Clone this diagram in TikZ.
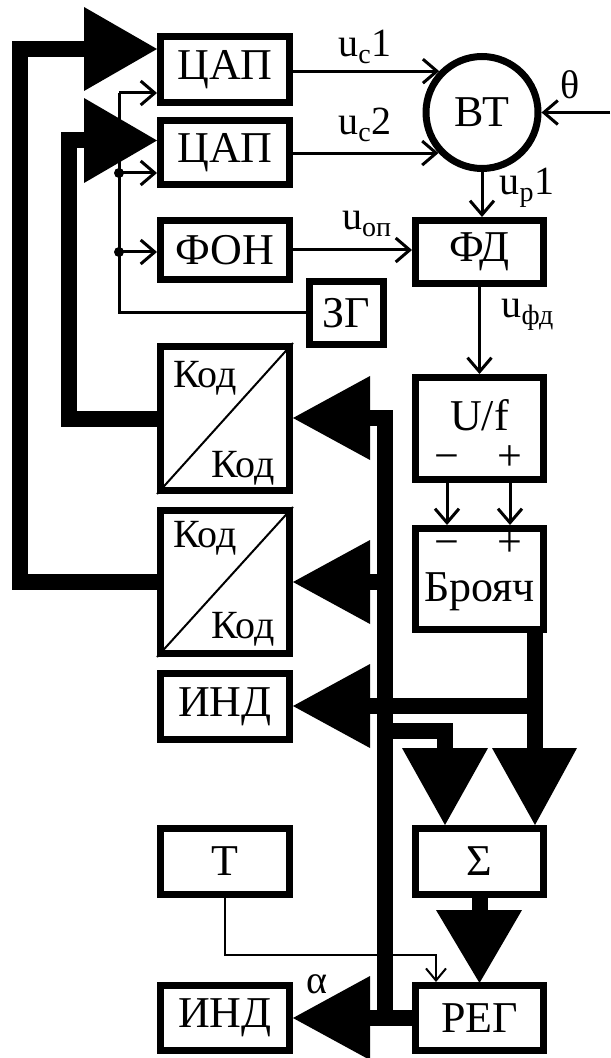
\documentclass[tikz,border=0pt]{standalone}
\usepackage{fontspec}
\setmainfont{Liberation Serif}
\usetikzlibrary{arrows.meta}

\begin{document}
\begin{tikzpicture}[x=0.5pt,y=-0.5pt,
            blk/.style={draw,line width=3.5pt,inner sep=0pt,minimum width=64.5pt,font=\fontsize{22}{24}\selectfont},
            sig/.style={line width=1.5pt,-{Straight Barb[length=7pt,width=12pt,line width=1.5pt]}},
            wire/.style={line width=1.5pt},
            bus/.style={line width=8pt},
            txt/.style={inner sep=0pt,font=\fontsize{22}{24}\selectfont},
            pm/.style={inner sep=0pt,anchor=base,font=\fontsize{22}{24}\selectfont},
            kod/.style={inner sep=0pt,anchor=base,font=\fontsize{20}{22}\selectfont},
            lbl/.style={inner sep=0pt,anchor=base,font=\fontsize{20}{22}\selectfont}]

            \useasboundingbox (0,0) rectangle (610,1058);

            \node[blk,minimum height=33pt] (dac1) at (225,69.5) {ЦАП};
            \node[blk,minimum height=32pt] (dac2) at (225,152.5) {ЦАП};
            \node[blk,minimum height=29.5pt] (fon) at (225,250) {ФОН};
            \node[blk,minimum width=37pt,minimum height=31.5pt] (zg) at (346,313) {ЗГ};
            \node[blk,circle,minimum size=56pt] (bt) at (482,112.5) {ВТ};
            \node[blk,minimum width=64pt,minimum height=31.5pt] (fd) at (479.5,252) {ФД};

            \node[blk,minimum height=72pt] (kod1) at (225,418.5) {};
            \node[blk,minimum height=71.5pt] (kod2) at (225,582) {};
            \node[blk,minimum width=64pt,minimum height=51pt] (uf) at (479.5,428.5) {};
            \node[blk,minimum width=64pt,minimum height=50.5pt] (br) at (479.5,579) {};
            \node[blk,minimum height=33pt] (ind1) at (225,706.5) {ИНД};
            \node[blk,minimum height=33pt] (t) at (225,861.5) {Т};
            \node[blk,minimum width=64pt,minimum height=33pt] (sum) at (479.5,861.5) {Σ};
            \node[blk,minimum width=64pt,minimum height=32.5pt] (reg) at (479.5,1018) {РЕГ};
            \node[blk,minimum height=32.5pt] (ind2) at (225,1018) {ИНД};

            \draw[line width=1pt] (kod1.south west) -- (kod1.north east);
            \draw[line width=1pt] (kod2.south west) -- (kod2.north east);
            \node[kod] (k1a) at (205,387) {Код};
            \node[kod] (k1b) at (243,477) {Код};
            \node[kod] (k2a) at (205,547) {Код};
            \node[kod] (k2b) at (243,638) {Код};

            \node[txt] (uft) at (479.5,415) {U/f};
            \node[pm] (ufm) at (447,470) {−};
            \node[pm] (ufp) at (510,470) {+};
            \node[pm] (brm) at (447,556) {−};
            \node[pm] (brp) at (510,556) {+};
            \node[txt] (brt) at (479.5,592) {Брояч};

            \coordinate (c1) at (119,93);
            \coordinate (c2) at (119,173);
            \coordinate (c3) at (119,252);
            \coordinate (th) at (610,112.5);
            \coordinate (tk) at (436,955);

            \draw[sig] (dac1.east |- bt.136) -- (bt.136);
            \draw[sig] (dac2.east |- bt.223) -- (bt.223);
            \draw[sig] (th) -- (bt.east);
            \draw[sig] (bt.south) -- (bt.south |- fd.north);
            \draw[sig] (fon.east) -- (fon.east -| fd.west);
            \draw[sig] (fd.south) -- (fd.south |- uf.north);
            \draw[sig] (ufm |- uf.south) -- (ufm |- br.north);
            \draw[sig] (ufp |- uf.south) -- (ufp |- br.north);

            \draw[wire] (zg.west) -| (c1);
            \draw[sig] (c1) -- (c1 -| dac1.west);
            \draw[sig] (c2) -- (c2 -| dac2.west);
            \draw[sig] (c3) -- (c3 -| fon.west);
            \fill (c2) circle[radius=5];
            \fill (c3) circle[radius=5];

            \draw[line width=1pt,-{Straight Barb[length=6pt,width=10pt,line width=1pt]}] (t.south) |- (tk) -- (tk |- reg.north);

            \coordinate (in1) at (84,49);
            \coordinate (in2) at (84,140.5);
            \coordinate (k1in) at (370,418);
            \coordinate (k2in) at (370,582);
            \coordinate (i1in) at (370,706);
            \coordinate (i2in) at (370,1018);
            \coordinate (bustop) at (385,418);
            \coordinate (busend) at (385,1018);
            \coordinate (tap) at (385,731);
            \coordinate (sl) at (445,748);
            \coordinate (sr) at (535,748);
            \coordinate (rin) at (479.5,910);

            \fill (84,7) -- (84,91) -- (157,49) -- cycle;
            \fill (84,98) -- (84,183) -- (157,140.5) -- cycle;
            \fill (370,376) -- (370,460) -- (293,418) -- cycle;
            \fill (370,540) -- (370,624) -- (293,582) -- cycle;
            \fill (370,664) -- (370,748) -- (293,706) -- cycle;
            \fill (370,976) -- (370,1060) -- (293,1018) -- cycle;
            \fill (402,748) -- (488,748) -- (445,825) -- cycle;
            \fill (492,748) -- (577,748) -- (535,825) -- cycle;
            \fill (436,910) -- (522,910) -- (479.5,983) -- cycle;

            \draw[bus] (kod2.west) -| (20,49) -- (in1);
            \draw[bus] (kod1.west) -| (69,140.5) -- (in2);
            \draw[bus] (k1in) -- (bustop) -- (busend);
            \draw[bus] (k2in) -- (k2in -| bustop);
            \draw[bus] (i2in) -- (reg.west);
            \draw[bus] (br.south -| sr) -- (sr);
            \draw[bus] (i1in) -- (i1in -| sr);
            \draw[bus] (tap) -| (sl);
            \draw[bus] (sum.south) -- (rin);

            \node[lbl] (luc1) at (365,57) {u\textsubscript{с}1};
            \node[lbl] (luc2) at (365,135) {u\textsubscript{с}2};
            \node[lbl,anchor=center] (lth) at (570,85) {θ};
            \node[lbl] (lup) at (527,195) {u\textsubscript{р}1};
            \node[lbl] (luop) at (367,230) {u\textsubscript{оп}};
            \node[lbl] (lufd) at (528,318) {u\textsubscript{фд}};
            \node[lbl,anchor=center] (lal) at (317,984) {α};

\end{tikzpicture}
\end{document}
